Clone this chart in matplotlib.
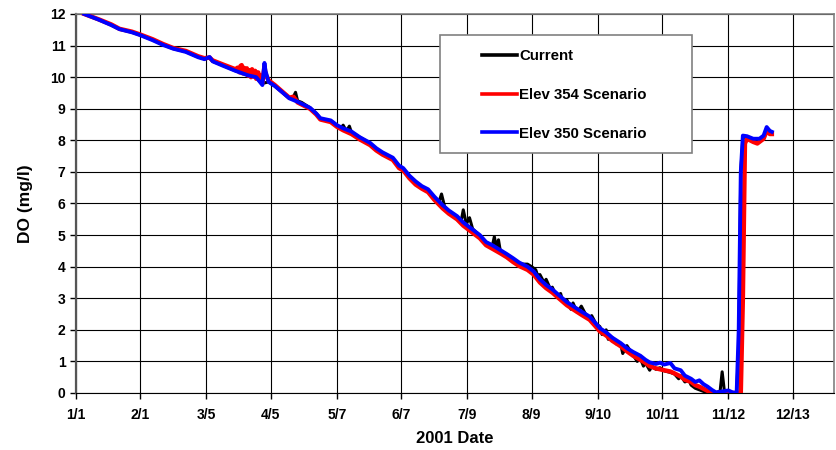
import matplotlib
matplotlib.use("Agg")
import matplotlib.pyplot as plt
from matplotlib.patches import Rectangle
from matplotlib.lines import Line2D

plt.rcParams['font.family'] = ['Liberation Sans', 'DejaVu Sans']
plt.rcParams['font.weight'] = 'bold'

# x axis: day of year 2001
tick_days = [1, 32, 64, 95, 127, 158, 190, 221, 253, 284, 316, 347]
tick_labels = ['1/1', '2/1', '3/5', '4/5', '5/7', '6/7', '7/9', '8/9',
               '9/10', '10/11', '11/12', '12/13']

# Elev 350 Scenario (blue)
blue_day = [5, 12, 18, 22, 28, 32, 38, 43, 48, 54, 60, 63, 65.5, 67, 72, 78, 84, 88,
            91, 92, 92.5, 94, 97, 101, 104, 108, 114, 117, 119, 124, 127, 130, 134,
            138, 143, 146, 149, 154, 157, 159, 162, 165, 168, 171, 174, 178, 181, 185,
            188, 190, 193, 196, 199, 202, 206, 209, 212, 215, 219, 222, 225, 228, 231,
            235, 238, 241, 245, 249, 252, 254, 257, 260, 264, 267, 270, 273.5, 276,
            278, 281, 283, 285, 288, 290, 293, 295, 298, 300, 302, 304, 306, 308, 310,
            313, 316, 318, 320, 321, 322, 323, 325, 328, 331, 333, 334.5, 336, 337]
blue_do = [12.0, 11.82, 11.65, 11.52, 11.42, 11.33, 11.17, 11.02, 10.9, 10.8, 10.63,
           10.57, 10.64, 10.5, 10.36, 10.2, 10.06, 10.0, 9.75, 10.45, 10.2, 9.85, 9.72,
           9.5, 9.33, 9.22, 9.03, 8.85, 8.7, 8.63, 8.48, 8.38, 8.28, 8.1, 7.92, 7.75,
           7.62, 7.45, 7.2, 7.12, 6.88, 6.7, 6.55, 6.45, 6.22, 5.95, 5.78, 5.6, 5.4, 5.3,
           5.15, 5.0, 4.78, 4.68, 4.52, 4.4, 4.27, 4.13, 4.0, 3.85, 3.6, 3.42, 3.28,
           3.05, 2.88, 2.75, 2.58, 2.42, 2.2, 2.05, 1.92, 1.75, 1.58, 1.42, 1.3, 1.18,
           1.05, 0.97, 0.92, 0.96, 0.9, 0.95, 0.78, 0.72, 0.55, 0.45, 0.35, 0.4, 0.28,
           0.2, 0.1, 0.02, 0.05, 0.08, 0.02, 0.0, 2.0, 7.0, 8.15, 8.13, 8.05, 8.05,
           8.15, 8.42, 8.3, 8.27]

# Elev 354 Scenario (red)
red_day = [5, 12, 18, 22, 28, 32, 38, 43, 48, 54, 60, 63, 65.5, 67, 72, 78, 79, 80,
           80.5, 81, 81.5, 82, 83, 83.5, 84, 85, 85.5, 86, 87, 87.5, 88, 89, 89.5, 90,
           91, 92, 92.5, 94, 97, 101, 104, 106, 108, 114, 117, 119, 124, 127, 130, 134,
           138, 143, 146, 149, 154, 157, 159, 162, 165, 168, 171, 174, 178, 181, 185,
           188, 190, 193, 196, 199, 202, 206, 209, 212, 215, 219, 222, 225, 228, 231,
           235, 238, 241, 245, 249, 252, 254, 257, 260, 264, 267, 270, 273.5, 276, 278,
           281, 283, 285, 288, 290, 293, 295, 298, 300, 302, 305, 308, 321, 322, 323,
           324, 325, 328, 330, 331, 333, 334.5, 336, 337]
red_do = [12.0, 11.83, 11.67, 11.53, 11.44, 11.35, 11.2, 11.05, 10.92, 10.83, 10.66,
          10.6, 10.62, 10.53, 10.4, 10.25, 10.3, 10.15, 10.36, 10.38, 10.12, 10.3,
          10.1, 10.28, 10.05, 10.22, 10.0, 10.25, 10.02, 10.2, 9.95, 10.15, 9.9, 10.05,
          9.82, 10.35, 10.1, 9.9, 9.75, 9.52, 9.35, 9.38, 9.2, 9.0, 8.82, 8.66, 8.58,
          8.43, 8.32, 8.2, 8.03, 7.85, 7.68, 7.55, 7.38, 7.12, 7.05, 6.8, 6.6, 6.47,
          6.36, 6.12, 5.85, 5.68, 5.5, 5.3, 5.2, 5.05, 4.9, 4.68, 4.57, 4.42, 4.3,
          4.15, 4.02, 3.9, 3.75, 3.5, 3.32, 3.18, 2.95, 2.78, 2.65, 2.48, 2.32, 2.1,
          1.95, 1.82, 1.65, 1.48, 1.32, 1.18, 1.05, 0.95, 0.85, 0.78, 0.75, 0.72, 0.68,
          0.62, 0.52, 0.42, 0.35, 0.25, 0.2, 0.1, 0.0, 0.0, 0.0, 3.0, 7.9, 8.05, 7.95,
          7.9, 7.95, 8.05, 8.3, 8.2, 8.2]

# Current (black)
black_day = [5, 12, 18, 22, 28, 32, 38, 43, 48, 54, 60, 63, 65.5, 67, 72, 78, 84, 88,
             91, 94, 97, 101, 104, 106, 107, 108, 110, 114, 117, 119, 124, 127, 129,
             130, 131, 132, 133, 134, 138, 143, 146, 149, 154, 157, 159, 162, 165, 168,
             171, 174, 176, 177.5, 179, 181, 185, 187, 188, 189.5, 191, 192.5, 194,
             196, 199, 202, 203, 204, 205, 206, 208, 209, 212, 215, 217, 219, 221, 223,
             224, 225, 227, 228, 230, 231, 233, 235, 236, 238, 240, 241, 243, 245, 247,
             249, 250, 252, 254, 255, 257, 258, 260, 262, 264, 265, 267, 269, 270, 272,
             273.5, 275, 276, 278, 279, 281, 283, 285, 288, 290, 292, 293, 295, 297,
             298, 300, 302, 304, 306, 310, 312, 313, 314, 316, 320, 321, 322, 323, 325,
             328, 331, 333, 334.5, 336, 337]
black_do = [12.0, 11.82, 11.66, 11.52, 11.43, 11.34, 11.19, 11.04, 10.91, 10.81, 10.64,
            10.58, 10.6, 10.5, 10.37, 10.2, 10.06, 10.0, 9.8, 9.85, 9.72, 9.5, 9.33,
            9.38, 9.52, 9.25, 9.2, 9.03, 8.85, 8.68, 8.62, 8.46, 8.4, 8.48, 8.36, 8.34,
            8.45, 8.25, 8.1, 7.9, 7.73, 7.6, 7.43, 7.18, 7.1, 6.86, 6.68, 6.53, 6.43,
            6.2, 6.0, 6.3, 5.9, 5.75, 5.58, 5.45, 5.8, 5.35, 5.55, 5.2, 5.1, 4.98, 4.75,
            4.65, 4.95, 4.6, 4.85, 4.45, 4.4, 4.35, 4.25, 4.1, 4.08, 4.08, 4.0, 3.9, 3.7,
            3.75, 3.5, 3.6, 3.3, 3.35, 3.05, 3.15, 2.9, 2.95, 2.65, 2.85, 2.55, 2.75,
            2.5, 2.35, 2.45, 2.2, 2.1, 1.85, 2.0, 1.7, 1.75, 1.55, 1.55, 1.25, 1.5, 1.3,
            1.2, 1.0, 1.1, 0.85, 0.95, 0.72, 0.85, 0.75, 0.8, 0.7, 0.65, 0.6, 0.45, 0.55,
            0.35, 0.4, 0.25, 0.15, 0.1, 0.05, 0.0, 0.0, 0.05, 0.67, 0.1, 0.0, 0.0, 1.5,
            7.0, 8.1, 8.1, 8.0, 8.0, 8.1, 8.35, 8.25, 8.22]

series_names = ['Current', 'Elev 354 Scenario', 'Elev 350 Scenario']
series_colors = ['black', '#ff0000', '#0000ff']

fig = plt.figure(figsize=(8.37, 4.5), dpi=100)
ax = fig.add_axes([0.0908, 0.1267, 0.9056, 0.8422])

ax.plot(black_day, black_do, color=series_colors[0], lw=2.2, zorder=3)
ax.plot(red_day, red_do, color=series_colors[1], lw=3.2, zorder=4)
ax.plot(blue_day, blue_do, color=series_colors[2], lw=2.8, zorder=5)

ax.set_xlim(1, 367)
ax.set_ylim(0, 12)
ax.set_xticks(tick_days)
ax.set_xticklabels(tick_labels)
ax.set_yticks(range(0, 13))
ax.tick_params(axis='both', labelsize=10, length=4, width=1, direction='out')
ax.tick_params(axis='x', pad=7)
ax.grid(True, color='black', lw=0.8)
ax.set_axisbelow(True)

for side in ['top', 'right']:
    ax.spines[side].set_color('#808080')
    ax.spines[side].set_linewidth(1.2)
ax.spines['left'].set_color('#555555')
ax.spines['left'].set_linewidth(1.6)
ax.spines['bottom'].set_color('black')

ax.set_xlabel('2001 Date', fontsize=12, fontweight='bold', labelpad=6)
ax.set_ylabel('DO (mg/l)', fontsize=12.5, fontweight='bold', labelpad=12)

# legend box
ax.add_patch(Rectangle((0.480, 0.633), 0.333, 0.312, transform=ax.transAxes,
                       facecolor='white', edgecolor='#808080', lw=1.2, zorder=6))
handles = [Line2D([], [], color=c, lw=2.6) for c in series_colors]
leg = ax.legend(handles, series_names, loc='upper left',
                bbox_to_anchor=(0.522, 0.935), frameon=False, fontsize=10.8,
                handlelength=2.3, handletextpad=0.15, labelspacing=1.65,
                borderpad=0.2)
leg.set_zorder(7)

fig.savefig('out.png', dpi=100)
